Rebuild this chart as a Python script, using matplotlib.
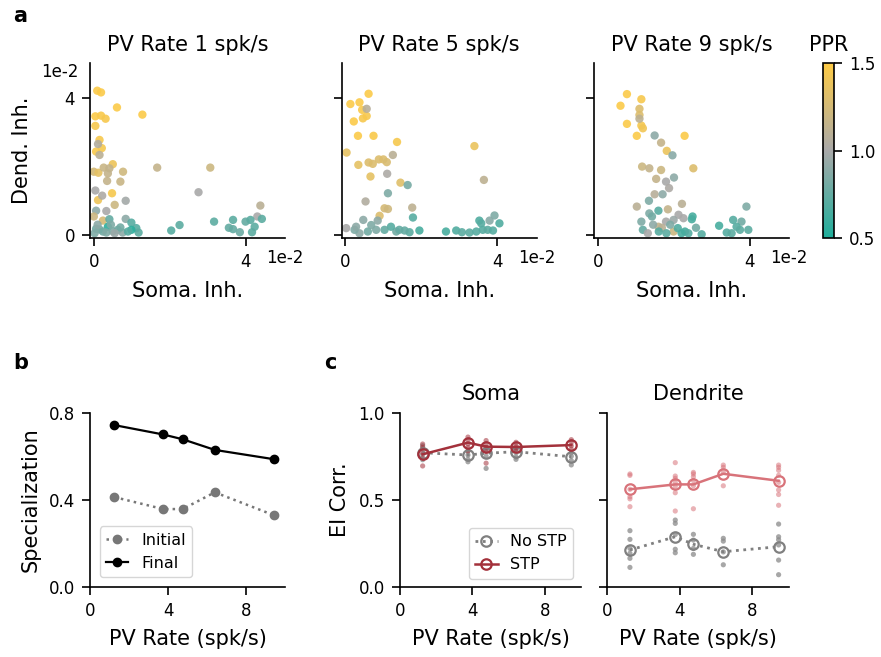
import numpy as np
import matplotlib
matplotlib.use("Agg")
import matplotlib.pyplot as plt
from matplotlib.colors import LinearSegmentedColormap, Normalize
from matplotlib.lines import Line2D

plt.rcParams['axes.unicode_minus'] = False
plt.rcParams['font.family'] = ['DejaVu Sans']
plt.rcParams['axes.linewidth'] = 1.2
plt.rcParams['xtick.major.width'] = 1.2
plt.rcParams['ytick.major.width'] = 1.2
plt.rcParams['xtick.major.size'] = 5.8
plt.rcParams['ytick.major.size'] = 5.8
plt.rcParams['xtick.major.pad'] = 5
plt.rcParams['ytick.major.pad'] = 5
plt.rcParams['xtick.labelsize'] = 12
plt.rcParams['ytick.labelsize'] = 12
plt.rcParams['axes.labelsize'] = 15
plt.rcParams['axes.titlesize'] = 15
plt.rcParams['legend.fontsize'] = 11.5

# ---- panel a: soma / dendrite inhibition (units of 1e-2) and PPR ----
soma_1 = [0.09, 0.19, 0.61, 1.28, 0.04, 0.19, 0.31, 0.04, 0.15, 0.21, 0.06, 0.50, 0.0, 0.12, 0.48, 0.11,
          0.11, 0.15, 0.26, 0.41, 0.37, 0.35, 0.77, 0.70, 1.67, 3.07, 2.76, 0.04, 0.22, 0.84, 0.55, 4.39,
          0.06, 0.33, 0.84, 4.31, 0.0, 0.24,
          0.41, 0.99, 1.12, 1.18, 0.99, 0.37, 2.04, 2.26, 3.17, 3.67, 3.56, 3.67, 3.85, 4.0, 4.13, 4.24,
          4.17, 4.43, 0.06, 0.15, 0.24, 0.33, 0.50, 0.63, 0.76, 0.02, 0.10, 0.45, 0.70, 0.55, 0.90]
dend_1 = [4.22, 4.17, 3.73, 3.52, 3.47, 3.49, 3.40, 3.19, 2.78, 2.54, 2.44, 2.07, 1.85, 1.82, 1.22, 1.02,
          2.66, 2.34, 1.97, 1.95, 1.80, 1.58, 1.85, 1.56, 1.97, 1.97, 1.25, 1.30, 1.15, 1.00, 0.88, 0.86,
          0.71, 0.70, 0.47, 0.54, 0.54, 0.42,
          0.46, 0.36, 0.20, 0.07, 0.15, 0.24, 0.13, 0.29, 0.39, 0.44, 0.21, 0.17, 0.08, 0.39, 0.44, 0.24,
          0.08, 0.47, 0.18, 0.16, 0.10, 0.07, 0.11, 0.15, 0.07, 0.05, 0.30, 0.30, 0.22, 0.05, 0.10]
ppr_1 = [1.48, 1.48, 1.48, 1.48, 1.48, 1.47, 1.46, 1.46, 1.46, 1.45, 1.47, 1.40, 1.25, 1.35, 1.45, 1.40,
         1.05, 1.10, 1.18, 1.15, 1.15, 1.15, 1.22, 1.18, 1.15, 1.20, 1.00, 1.00, 1.02, 0.98, 1.20, 1.10,
         0.90, 1.00, 0.90, 1.00, 1.20, 1.25,
         0.75, 0.70, 0.70, 0.72, 0.55, 0.55, 0.70, 0.72, 0.72, 0.72, 0.75, 0.75, 0.78, 0.75, 0.72, 0.72,
         0.72, 0.72, 0.80, 0.85, 0.80, 0.85, 0.85, 0.80, 0.90, 0.85, 0.90, 0.85, 0.80, 0.95, 0.70]

soma_5 = [0.61, 0.13, 0.37, 0.44, 0.56, 0.46, 0.22, 0.33, 0.74, 1.36, 0.03, 3.40, 0.34, 0.61, 0.72, 0.88,
          1.00, 1.09, 0.66, 1.45, 0.90,
          0.56, 1.25, 1.10, 3.65, 1.64, 1.12, 0.53, 1.03, 1.12, 1.76, 1.78, 0.02, 0.47, 0.85, 3.93, 3.80,
          4.06, 3.53, 3.58,
          2.65, 2.92, 3.07, 3.27, 3.45, 3.62, 3.75, 3.89, 1.95, 1.69, 1.56, 1.34, 1.20, 1.03, 0.81, 0.59,
          0.37, 0.24, 0.28, 0.68, 1.42]
dend_5 = [4.13, 3.83, 3.88, 3.66, 3.48, 3.41, 3.32, 2.90, 2.90, 2.72, 2.41, 2.60, 2.05, 2.12, 2.08, 2.21,
          2.21, 2.13, 1.71, 1.53, 0.56,
          3.69, 2.34, 1.79, 1.61, 1.46, 1.22, 0.98, 0.78, 0.76, 0.80, 0.51, 0.20, 0.44, 0.42, 0.57, 0.42,
          0.34, 0.42, 0.34,
          0.10, 0.13, 0.08, 0.07, 0.10, 0.15, 0.15, 0.13, 0.13, 0.08, 0.13, 0.10, 0.24, 0.15, 0.15, 0.10,
          0.05, 0.15, 0.24, 0.29, 0.15]
ppr_5 = [1.48, 1.48, 1.48, 1.47, 1.46, 1.46, 1.48, 1.48, 1.47, 1.45, 1.35, 1.38, 1.35, 1.30, 1.30, 1.30,
         1.30, 1.28, 1.35, 1.32, 1.30,
         1.08, 1.10, 1.02, 1.12, 0.82, 0.85, 1.05, 1.25, 1.22, 1.12, 0.70, 1.00, 0.90, 0.90, 0.85, 0.88,
         0.68, 0.68, 0.70,
         0.65, 0.68, 0.72, 0.72, 0.70, 0.70, 0.72, 0.70, 0.65, 0.72, 0.75, 0.80, 0.70, 0.75, 0.85, 0.80,
         0.90, 0.85, 0.90, 0.85, 0.75]

soma_9 = [0.76, 0.59, 1.14, 1.09, 1.09, 0.76, 1.14, 1.18, 1.02, 2.28, 1.81, 2.51,
          1.09, 1.49, 1.66, 1.96, 1.16, 1.35, 1.66, 2.00, 1.53, 1.79, 1.87, 1.49, 1.70, 1.34, 1.02, 2.21,
          3.91, 1.84, 1.59, 1.35, 1.42, 2.12, 2.25, 1.99, 1.79, 1.14, 1.18, 1.31, 1.59, 1.68, 1.99, 2.49,
          2.47, 2.58, 2.73, 2.29, 2.38, 3.19, 3.56, 3.78, 3.65, 3.74, 3.39, 3.52, 3.96, 1.60, 1.80, 2.10,
          2.20, 1.45, 1.90]
dend_9 = [4.12, 3.78, 3.97, 3.69, 3.51, 3.25, 3.20, 3.12, 2.90, 2.90, 2.46, 1.95,
          3.40, 2.91, 2.70, 2.33, 2.00, 1.95, 1.90, 1.68, 1.64, 1.56, 1.37, 1.19, 1.19, 1.00, 0.83, 0.91,
          0.83, 0.75, 0.71, 0.63, 0.54, 0.59, 0.49, 0.44, 0.39, 0.39, 0.15, 0.05, 0.24, 0.21, 0.10, 0.54,
          0.46, 0.21, 0.02, 0.10, 0.05, 0.27, 0.44, 0.39, 0.24, 0.15, 0.07, 0.05, 0.15, 0.10, 0.05, 0.20,
          0.05, 0.30, 0.30]
ppr_9 = [1.48, 1.48, 1.46, 1.30, 1.30, 1.48, 1.45, 1.42, 1.48, 1.48, 1.38, 1.30,
         1.12, 0.90, 1.15, 0.88, 1.20, 1.15, 1.20, 0.90, 1.15, 1.00, 1.02, 1.08, 0.90, 0.85, 1.10, 1.10,
         0.85, 1.15, 0.70, 0.85, 0.80, 1.00, 1.00, 0.95, 1.00, 0.85, 0.75, 1.00, 1.15, 1.10, 1.20, 0.65,
         0.65, 0.80, 0.70, 0.65, 0.70, 0.65, 0.70, 0.80, 0.70, 0.72, 0.70, 0.72, 0.72, 0.70, 0.72, 0.68,
         0.65, 0.90, 0.85]

pv_titles = ['PV Rate 1 spk/s', 'PV Rate 5 spk/s', 'PV Rate 9 spk/s']

# ---- panel b ----
pv_rate = [1.25, 3.75, 4.75, 6.4, 9.45]
spec_initial = [0.412, 0.357, 0.357, 0.434, 0.328]
spec_final = [0.743, 0.700, 0.678, 0.629, 0.586]

# ---- panel c: EI correlation ----
soma_stp_mean = [0.761, 0.828, 0.805, 0.803, 0.814]
soma_nostp_mean = [0.770, 0.757, 0.767, 0.776, 0.747]
dend_stp_mean = [0.560, 0.588, 0.588, 0.649, 0.609]
dend_nostp_mean = [0.211, 0.287, 0.244, 0.201, 0.230]

soma_stp_runs = [[0.82, 0.80, 0.77, 0.74, 0.694], [0.86, 0.84, 0.82, 0.80, 0.78],
                 [0.84, 0.82, 0.80, 0.78, 0.71], [0.83, 0.81, 0.80, 0.79],
                 [0.845, 0.83, 0.81, 0.79]]
soma_nostp_runs = [[0.81, 0.79, 0.76, 0.73], [0.78, 0.757, 0.732, 0.718],
                   [0.80, 0.78, 0.75, 0.68], [0.79, 0.77, 0.745, 0.732],
                   [0.77, 0.75, 0.725, 0.70]]
dend_stp_runs = [[0.648, 0.640, 0.56, 0.517, 0.505, 0.46],
                 [0.713, 0.636, 0.623, 0.60, 0.575, 0.54, 0.435],
                 [0.657, 0.648, 0.632, 0.61, 0.58, 0.448],
                 [0.699, 0.686, 0.66, 0.58],
                 [0.699, 0.686, 0.669, 0.64, 0.60, 0.556, 0.53, 0.468]]
dend_nostp_runs = [[0.322, 0.272, 0.22, 0.192, 0.163, 0.111],
                   [0.383, 0.364, 0.30, 0.215, 0.195],
                   [0.301, 0.268, 0.22, 0.186],
                   [0.278, 0.262, 0.20, 0.126],
                   [0.36, 0.287, 0.27, 0.24, 0.153, 0.069]]

cmap = LinearSegmentedColormap.from_list('ppr', ['#1fae9b', '#a9a9a9', '#fecb45'])
norm = Normalize(0.5, 1.5)

fig = plt.figure(figsize=(8.81, 6.57), dpi=100)


def clean(ax):
    ax.spines['top'].set_visible(False)
    ax.spines['right'].set_visible(False)


# panel a
a_lefts = [0.1022, 0.3878, 0.6746]
a_data = [(soma_1, dend_1, ppr_1), (soma_5, dend_5, ppr_5), (soma_9, dend_9, ppr_9)]
for i, (sx, dy, pp) in enumerate(a_data):
    ax = fig.add_axes([a_lefts[i], 0.6377, 0.2213, 0.2664])
    clean(ax)
    ax.scatter(np.array(sx) * 1e-2, np.array(dy) * 1e-2, c=pp, cmap=cmap, norm=norm,
               s=36, edgecolors='none', alpha=0.9)
    ax.set_xlim(-0.001, 0.0504)
    ax.set_ylim(-0.0009, 0.0503)
    ax.set_xticks([0, 0.04])
    ax.set_xticklabels(['0', '4'])
    ax.set_yticks([0, 0.04])
    if i == 0:
        ax.set_yticklabels(['0', '4'])
        ax.set_ylabel('Dend. Inh.')
        ax.yaxis.set_label_coords(-0.30, 0.5)
        ax.text(-0.06, 1.0, '1e-2', transform=ax.transAxes, ha='right', va='top', fontsize=12)
    else:
        ax.set_yticklabels([])
    ax.text(1.0, -0.065, '1e-2', transform=ax.transAxes, ha='center', va='top', fontsize=12)
    ax.set_xlabel('Soma. Inh.', labelpad=7)
    ax.set_title(pv_titles[i], pad=9)

cax = fig.add_axes([0.9342, 0.6377, 0.0125, 0.2664])
sm = plt.cm.ScalarMappable(norm=norm, cmap=cmap)
cb = fig.colorbar(sm, cax=cax, ticks=[0.5, 1.0, 1.5])
cb.ax.set_yticklabels(['0.5', '1.0', '1.5'])
cb.outline.set_linewidth(1.2)
cax.set_title('PPR', pad=9)

# panel b
axb = fig.add_axes([0.1022, 0.107, 0.2213, 0.2648])
clean(axb)
axb.plot(pv_rate, spec_initial, ':', color='#777777', marker='o', ms=6, lw=1.8, label='Initial')
axb.plot(pv_rate, spec_final, '-', color='black', marker='o', ms=6, lw=1.6, label='Final')
axb.set_xlim(0, 10)
axb.set_ylim(0, 0.8)
axb.set_xticks([0, 4, 8])
axb.set_yticks([0.0, 0.4, 0.8])
axb.set_xlabel('PV Rate (spk/s)', labelpad=7)
axb.set_ylabel('Specialization', labelpad=6)
axb.legend(loc='lower left', handlelength=1.4, borderaxespad=0.6)

# panel c
stp_dark = '#a3313b'
stp_light = '#d8737a'
gray = '#808080'
c_lefts = [0.454, 0.6893]
c_sets = [('Soma', soma_nostp_mean, soma_nostp_runs, soma_stp_mean, soma_stp_runs, stp_dark),
          ('Dendrite', dend_nostp_mean, dend_nostp_runs, dend_stp_mean, dend_stp_runs, stp_light)]
for i, (name, nm, nr, sm_, sr, col) in enumerate(c_sets):
    ax = fig.add_axes([c_lefts[i], 0.107, 0.2058, 0.2648])
    clean(ax)
    for x, runs in zip(pv_rate, nr):
        ax.scatter([x] * len(runs), runs, s=14, color='#8a8a8a', alpha=0.75, edgecolors='none', zorder=2)
    for x, runs in zip(pv_rate, sr):
        ax.scatter([x] * len(runs), runs, s=14, color=col, alpha=0.55, edgecolors='none', zorder=3)
    ax.plot(pv_rate, nm, ':', color=gray, lw=2, marker='o', ms=7.5, mfc='none', mew=1.6,
            zorder=4, label='No STP')
    ax.plot(pv_rate, sm_, '-', color=col, lw=1.8, marker='o', ms=7.5, mfc='none', mew=1.6,
            zorder=5, label='STP')
    ax.set_xlim(0, 10)
    ax.set_ylim(0, 1.0)
    ax.set_xticks([0, 4, 8])
    ax.set_yticks([0.0, 0.5, 1.0])
    ax.set_xlabel('PV Rate (spk/s)', labelpad=7)
    ax.set_title(name, pad=9)
    if i == 0:
        ax.set_ylabel('EI Corr.', labelpad=6)
        handles = [Line2D([], [], ls=':', color=gray, lw=2, marker='o', ms=7.5, mfc='none', mew=1.6),
                   Line2D([], [], ls='-', color=stp_dark, lw=1.8, marker='o', ms=7.5, mfc='none', mew=1.6)]
        ax.legend(handles, ['No STP', 'STP'], loc='lower right', handlelength=1.4, borderaxespad=0.5)
    else:
        ax.set_yticklabels([])

fig.text(0.023, 0.976, 'a', fontsize=15, fontweight='bold', ha='center', va='center')
fig.text(0.023, 0.447, 'b', fontsize=15, fontweight='bold', ha='center', va='center')
fig.text(0.375, 0.447, 'c', fontsize=15, fontweight='bold', ha='center', va='center')

fig.savefig('out.png', dpi=100)
